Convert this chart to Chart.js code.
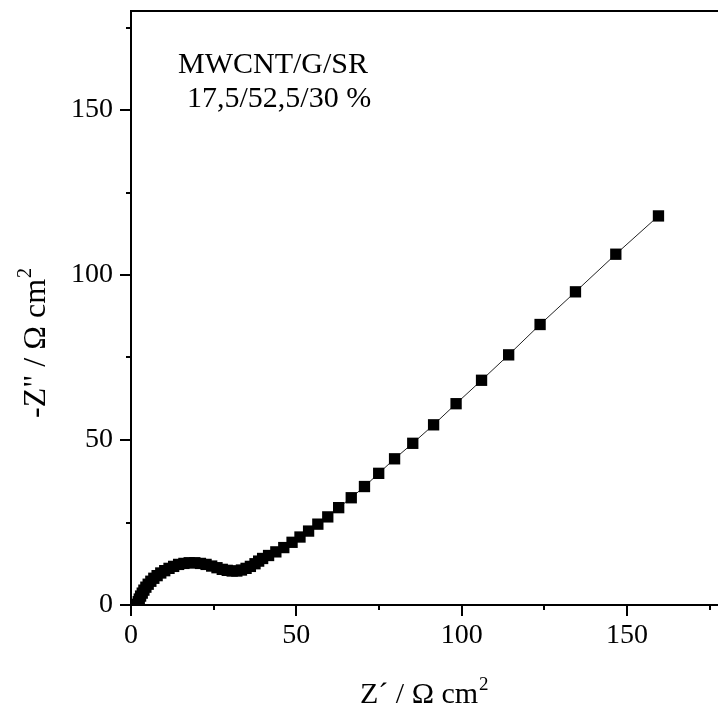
<!DOCTYPE html>
<html>
<head>
<meta charset="utf-8">
<style>
  html, body { margin: 0; padding: 0; background: #fff; overflow: hidden; }
  #wrap { width: 718px; height: 713px; }
</style>
<script src="https://cdn.jsdelivr.net/npm/chart.js@4/dist/chart.umd.min.js"></script>
</head>
<body>
<div id="wrap"><canvas id="nyquist" width="718" height="713"></canvas></div>
<script>
// Nyquist plot of the MWCNT/G/SR electrode (Z' vs -Z'', Ω cm²)
const zReal = [
  1.9, 2.2, 2.5, 2.9, 3.4, 3.9, 4.5, 5.2, 6.0, 6.9, 7.9, 9.0, 10.2, 11.5, 12.9,
  14.4, 16.0, 17.6, 19.3, 21.0, 22.7, 24.4, 26.0, 27.6, 29.1, 30.6, 32.0, 33.4,
  34.8, 36.1, 37.5, 38.6, 39.8, 41.6, 43.8, 46.2, 48.7, 51.1, 53.7, 56.5, 59.5,
  62.8, 66.6, 70.6, 74.9, 79.7, 85.2, 91.5, 98.3, 106.0, 114.2, 123.7, 134.4,
  146.6, 159.5
];
const zImag = [
  0.2, 1.0, 1.8, 2.7, 3.6, 4.5, 5.4, 6.3, 7.2, 8.1, 8.9, 9.7, 10.4, 11.1, 11.7,
  12.3, 12.6, 12.8, 12.8, 12.6, 12.3, 11.8, 11.3, 10.8, 10.5, 10.3, 10.3, 10.6,
  11.1, 11.7, 12.5, 13.3, 14.1, 15.0, 16.1, 17.4, 19.0, 20.6, 22.4, 24.5, 26.7,
  29.5, 32.5, 35.9, 39.9, 44.3, 49.0, 54.6, 61.0, 68.1, 75.8, 85.0, 94.9,
  106.3, 117.9
];
const sampleLabel = ['MWCNT/G/SR', '17,5/52,5/30 %'];
const xTitle = ['Z\u00B4 / \u03A9 cm', '2'];
const yTitle = ['-Z" / \u03A9 cm', '2'];
const axisMax = { x: 177.5, y: 180 };
const majorStep = 50;
const minorStep = 25;

const FONT = '"Liberation Serif", "Times New Roman", serif';

// Outward tick marks, top frame line, axis titles with superscripts, and sample label
const decorations = {
  id: 'decorations',
  afterDraw(chart) {
    const { ctx, chartArea: a, scales: { x, y } } = chart;
    ctx.save();
    ctx.strokeStyle = '#000';
    ctx.lineWidth = 2;
    ctx.beginPath();
    ctx.moveTo(a.left - 1, a.top);
    ctx.lineTo(a.right, a.top);
    ctx.stroke();

    ctx.beginPath();
    x.ticks.forEach(t => {
      const px = Math.round(x.getPixelForValue(t.value));
      const len = t.value % majorStep === 0 ? 11 : 5;
      ctx.moveTo(px, a.bottom);
      ctx.lineTo(px, a.bottom + len);
    });
    y.ticks.forEach(t => {
      const py = Math.round(y.getPixelForValue(t.value));
      const len = t.value % majorStep === 0 ? 11 : 5;
      ctx.moveTo(a.left, py);
      ctx.lineTo(a.left - len, py);
    });
    ctx.stroke();

    ctx.fillStyle = '#000';
    ctx.textBaseline = 'alphabetic';
    ctx.textAlign = 'left';

    // sample label
    ctx.font = '30px ' + FONT;
    ctx.fillText(sampleLabel[0], 178, 73);
    ctx.fillText(sampleLabel[1], 187, 107);

    // axis title with a raised "2"
    const drawTitle = (parts, x0, base, size) => {
      ctx.font = size + 'px ' + FONT;
      ctx.fillText(parts[0], x0, base);
      const w = ctx.measureText(parts[0]).width;
      ctx.font = Math.round(size * 0.63) + 'px ' + FONT;
      ctx.fillText(parts[1], x0 + w + 1, base - Math.round(size * 0.43));
    };
    drawTitle(xTitle, 360, 703, 30);

    // y-axis title (rotated)
    ctx.save();
    ctx.translate(45, 418);
    ctx.rotate(-Math.PI / 2);
    drawTitle(yTitle, 0, 0, 32);
    ctx.restore();

    ctx.restore();
  }
};

const labelEvery = v => (v % majorStep === 0 ? String(v) : '');

new Chart(document.getElementById('nyquist'), {
  type: 'scatter',
  data: {
    datasets: [{
      data: zReal.map((v, i) => ({ x: v, y: zImag[i] })),
      showLine: true,
      borderColor: '#222',
      borderWidth: 1,
      pointStyle: 'rect',
      pointRadius: 8,
      pointBackgroundColor: '#000',
      pointBorderWidth: 0,
      pointHoverRadius: 8
    }]
  },
  options: {
    responsive: false,
    devicePixelRatio: 1,
    animation: false,
    layout: { autoPadding: false, padding: { left: 0, top: 11, right: 0, bottom: 0 } },
    plugins: { legend: { display: false }, tooltip: { enabled: false } },
    scales: {
      x: {
        type: 'linear',
        min: 0,
        max: axisMax.x,
        afterFit: s => { s.height = 108; s.paddingLeft = 0; s.paddingRight = 0; },
        grid: { display: false, drawTicks: false },
        border: { display: true, color: '#000', width: 2 },
        ticks: {
          stepSize: minorStep,
          includeBounds: false,
          autoSkip: false,
          maxRotation: 0,
          padding: 14,
          color: '#000',
          font: { family: FONT, size: 28 },
          callback: labelEvery
        }
      },
      y: {
        type: 'linear',
        min: 0,
        max: axisMax.y,
        afterFit: s => { s.width = 131; s.paddingTop = 0; s.paddingBottom = 0; },
        grid: { display: false, drawTicks: false },
        border: { display: true, color: '#000', width: 2 },
        ticks: {
          stepSize: minorStep,
          includeBounds: false,
          autoSkip: false,
          padding: 18,
          color: '#000',
          font: { family: FONT, size: 28 },
          callback: labelEvery
        }
      }
    }
  },
  plugins: [decorations]
});
</script>
</body>
</html>
